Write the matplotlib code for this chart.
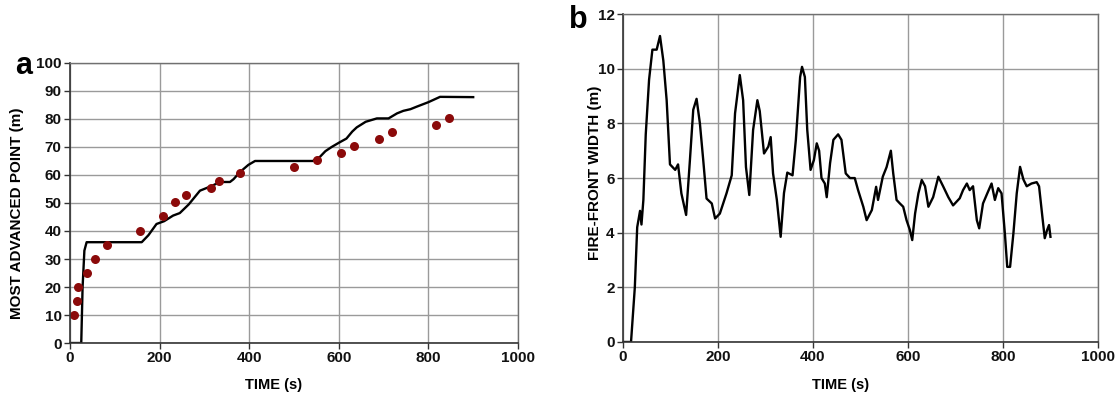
import matplotlib
matplotlib.use("Agg")
import matplotlib.pyplot as plt

plt.rcParams['font.family'] = ['Liberation Sans', 'DejaVu Sans']

# Panel a: measured points
obs_time = [9, 15, 18, 37, 56, 82, 156, 208, 234, 258, 315, 333, 379,
            500, 551, 606, 635, 689, 719, 818, 847]
obs_adv = [10, 15, 20, 25, 30, 35, 40, 45.3, 50.3, 52.8, 55.3, 58, 60.6,
           62.7, 65.4, 68, 70.4, 73, 75.4, 78, 80.5]

# Panel a: simulated most advanced point
sim_time = [0, 25, 28, 32, 37, 160, 175, 193, 210, 230, 245, 265, 290, 315,
            335, 357, 365, 379, 398, 413, 542, 558, 570, 584, 600, 617, 630,
            640, 660, 685, 711, 730, 744, 760, 774, 800, 826, 900]
sim_adv = [0, 0, 20, 33, 36, 36, 38.5, 42.5, 43.5, 45.5, 46.4, 49.5, 54.4, 56,
           57.5, 57.5, 58.5, 61, 63.6, 65, 65, 66.5, 68.5, 70, 71.5, 73, 75.5,
           77, 79, 80.2, 80.2, 82, 82.9, 83.5, 84.4, 86, 87.9, 87.8]

# Panel b: fire-front width
w_time = [0, 17, 25, 30, 36, 39, 43, 48, 55, 62, 71, 78, 85, 92, 99, 110, 116,
          123, 133, 141, 148, 155, 162, 169, 176, 187, 194, 204, 218, 229, 236,
          246, 253, 259, 266, 274, 283, 288, 297, 306, 311, 316, 324, 332, 339,
          346, 357, 364, 373, 377, 383, 388, 395, 402, 408, 413, 418, 425, 429,
          436, 443, 453, 460, 469, 478, 488, 495, 506, 513, 524, 533, 537, 547,
          555, 564, 569, 576, 583, 590, 597, 604, 609, 615, 622, 629, 636, 643,
          653, 664, 674, 685, 695, 709, 716, 724, 730, 737, 745, 750, 758, 767,
          776, 783, 790, 797, 804, 809, 815, 822, 829, 836, 843, 850, 860, 871,
          876, 883, 888, 893, 897, 900]
w_val = [0, 0, 2, 4.2, 4.8, 4.3, 5.2, 7.6, 9.6, 10.7, 10.7, 11.2, 10.3, 8.85,
         6.5, 6.3, 6.5, 5.44, 4.65, 6.66, 8.5, 8.9, 8.0, 6.66, 5.25, 5.07, 4.52,
         4.7, 5.44, 6.1, 8.37, 9.77, 8.85, 6.4, 5.38, 7.76, 8.85, 8.45, 6.9,
         7.15, 7.5, 6.17, 5.2, 3.85, 5.45, 6.2, 6.1, 7.4, 9.7, 10.07, 9.7, 7.76,
         6.3, 6.66, 7.27, 7.0, 6.0, 5.8, 5.3, 6.54, 7.4, 7.6, 7.4, 6.17, 6.0,
         6.0, 5.56, 4.95, 4.46, 4.83, 5.68, 5.2, 6.05, 6.4, 7.0, 6.17, 5.2,
         5.07, 4.95, 4.46, 4.1, 3.73, 4.7, 5.44, 5.93, 5.7, 4.95, 5.3, 6.05,
         5.7, 5.3, 5.0, 5.26, 5.56, 5.8, 5.56, 5.7, 4.46, 4.16, 5.07, 5.44, 5.8,
         5.2, 5.63, 5.44, 3.98, 2.75, 2.75, 3.98, 5.44, 6.41, 5.95, 5.7, 5.8,
         5.85, 5.7, 4.58, 3.8, 4.1, 4.28, 3.85]

x_ticks = [0, 200, 400, 600, 800, 1000]
a_yticks = list(range(0, 101, 10))
b_yticks = list(range(0, 13, 2))

fig = plt.figure(figsize=(11.19, 3.95), dpi=100)
axa = fig.add_axes([0.0626, 0.1316, 0.4003, 0.709])
axb = fig.add_axes([0.5567, 0.1342, 0.4245, 0.830])

grid_c = '#9a9a9a'
for ax in (axa, axb):
    ax.grid(True, color=grid_c, linewidth=1.0)
    ax.set_axisbelow(True)
    for s in ('top', 'right'):
        ax.spines[s].set_color('#707070')
        ax.spines[s].set_linewidth(1.0)
    for s in ('left', 'bottom'):
        ax.spines[s].set_color('#333333')
        ax.spines[s].set_linewidth(1.2)
    ax.tick_params(direction='out', length=4, width=1, colors='#333333',
                   labelcolor='#111111', labelsize=11, pad=2)
    ax.set_xlim(0, 1000)
    ax.set_xticks(x_ticks)

axa.plot(sim_time, sim_adv, color='black', linewidth=1.7)
axa.plot(obs_time, obs_adv, 'o', color='#8b0a0a', markersize=6.5,
         markeredgewidth=0)
axa.set_ylim(0, 100)
axa.set_yticks(a_yticks)
axa.set_xlabel('TIME (s)', fontsize=10.5, fontweight='bold', va='center')
axa.set_ylabel('MOST ADVANCED POINT (m)', fontsize=11, fontweight='bold',
               va='center')
axa.xaxis.set_label_coords(0.455, -0.15)
axa.yaxis.set_label_coords(-0.118, 0.4625)

axb.plot(w_time, w_val, color='black', linewidth=1.7)
axb.set_ylim(0, 12)
axb.set_yticks(b_yticks)
axb.set_xlabel('TIME (s)', fontsize=10.5, fontweight='bold', va='center')
axb.set_ylabel('FIRE-FRONT WIDTH (m)', fontsize=11, fontweight='bold',
               va='center')
axb.xaxis.set_label_coords(0.459, -0.131)
axb.yaxis.set_label_coords(-0.059, 0.515)

for ax in (axa, axb):
    for lab in ax.get_xticklabels() + ax.get_yticklabels():
        lab.set_fontweight('bold')

fig.text(24 / 1119, 1 - 66 / 395, 'a', fontsize=22, fontweight='bold',
         ha='center', va='center')
fig.text(578 / 1119, 1 - 20 / 395, 'b', fontsize=22, fontweight='bold',
         ha='center', va='center')

fig.savefig('out.png', dpi=100)
